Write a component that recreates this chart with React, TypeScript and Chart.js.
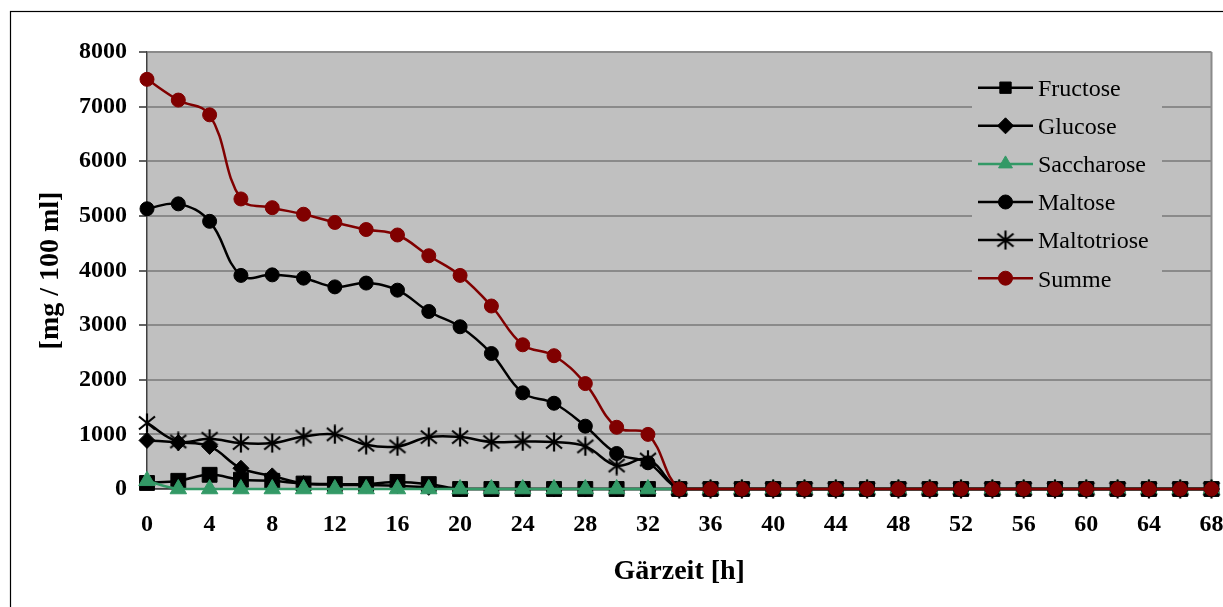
import React, { useEffect, useRef } from 'react';
import { Chart, registerables } from 'chart.js';
import { drawPoint } from 'chart.js/helpers';

Chart.register(...registerables);

const SERIF = "'Liberation Serif', 'Times New Roman', serif";

const hours = [0, 2, 4, 6, 8, 10, 12, 14, 16, 18, 20, 22, 24, 26, 28, 30, 32, 34, 36, 38, 40, 42, 44, 46, 48, 50, 52, 54, 56, 58, 60, 62, 64, 66, 68];

const fructose = [110, 150, 260, 170, 150, 100, 90, 90, 130, 90, 0, 0, 0, 0, 0, 0, 0, 0, 0, 0, 0, 0, 0, 0, 0, 0, 0, 0, 0, 0, 0, 0, 0, 0, 0];
const glucose = [890, 850, 780, 380, 240, 100, 80, 70, 60, 30, 0, 0, 0, 0, 0, 0, 0, 0, 0, 0, 0, 0, 0, 0, 0, 0, 0, 0, 0, 0, 0, 0, 0, 0, 0];
const saccharose = [150, 0, 0, 0, 0, 0, 0, 0, 0, 0, 0, 0, 0, 0, 0, 0, 0, 0, 0, 0, 0, 0, 0, 0, 0, 0, 0, 0, 0, 0, 0, 0, 0, 0, 0];
const maltose = [5130, 5220, 4900, 3910, 3920, 3860, 3700, 3770, 3640, 3250, 2970, 2480, 1760, 1570, 1150, 650, 480, 0, 0, 0, 0, 0, 0, 0, 0, 0, 0, 0, 0, 0, 0, 0, 0, 0, 0];
const maltotriose = [1210, 870, 920, 840, 840, 960, 1000, 810, 780, 950, 950, 860, 870, 860, 780, 430, 540, 0, 0, 0, 0, 0, 0, 0, 0, 0, 0, 0, 0, 0, 0, 0, 0, 0, 0];
const summe = [7500, 7120, 6850, 5310, 5150, 5030, 4880, 4750, 4650, 4270, 3910, 3350, 2640, 2440, 1930, 1130, 1000, 0, 0, 0, 0, 0, 0, 0, 0, 0, 0, 0, 0, 0, 0, 0, 0, 0, 0];

const legendOrder = ['Fructose', 'Glucose', 'Saccharose', 'Maltose', 'Maltotriose', 'Summe'];

function makeAsterisk(): HTMLCanvasElement {
  const c = document.createElement('canvas');
  c.width = 20;
  c.height = 20;
  const g = c.getContext('2d')!;
  g.strokeStyle = '#000';
  g.lineWidth = 2.2;
  g.beginPath();
  g.moveTo(10, 0.5);
  g.lineTo(10, 19.5);
  g.moveTo(2, 3.5);
  g.lineTo(18, 16.5);
  g.moveTo(18, 3.5);
  g.lineTo(2, 16.5);
  g.stroke();
  return c;
}

const pts = (vals: number[]) => hours.map((h, i) => ({ x: h, y: vals[i] }));

const bgPlugin = {
  id: 'excelBg',
  beforeDraw(chart: any) {
    const { ctx, chartArea: a } = chart;
    ctx.save();
    ctx.fillStyle = '#fff';
    ctx.fillRect(0, 0, chart.width, chart.height);
    ctx.fillStyle = '#C0C0C0';
    ctx.fillRect(a.left, a.top, a.right - a.left, a.bottom - a.top);
    ctx.restore();
  },
  beforeDatasetsDraw(chart: any) {
    const { ctx, chartArea: a } = chart;
    ctx.save();
    ctx.strokeStyle = '#8a8a8a';
    ctx.lineWidth = 2;
    ctx.beginPath();
    ctx.moveTo(a.right, a.top);
    ctx.lineTo(a.right, a.bottom);
    ctx.stroke();
    ctx.restore();
  },
};

const legendPlugin = {
  id: 'excelLegend',
  afterDraw(chart: any) {
    const ctx = chart.ctx;
    ctx.save();
    ctx.fillStyle = '#C0C0C0';
    ctx.fillRect(972, 68, 190, 228);
    legendOrder.forEach((name, i) => {
      const ds = chart.data.datasets.find((d: any) => d.label === name);
      const y = 87.7 + i * 38.1;
      ctx.strokeStyle = ds.borderColor;
      ctx.lineWidth = 2.5;
      ctx.beginPath();
      ctx.moveTo(978, y);
      ctx.lineTo(1033, y);
      ctx.stroke();
      ctx.fillStyle = ds.pointBackgroundColor;
      ctx.strokeStyle = ds.pointBorderColor;
      ctx.lineWidth = ds.pointBorderWidth;
      const r = Math.min(ds.pointRadius, 8);
      drawPoint(ctx, { pointStyle: ds.pointStyle, rotation: 0, radius: r, borderWidth: ds.pointBorderWidth } as any, 1005.5, y);
      ctx.fillStyle = '#000';
      ctx.font = `24px ${SERIF}`;
      ctx.textBaseline = 'alphabetic';
      ctx.textAlign = 'left';
      ctx.fillText(ds.label, 1038, y + 8.3);
    });
    // outer frame
    ctx.strokeStyle = '#000';
    ctx.lineWidth = 1.2;
    ctx.strokeRect(10.5, 11.5, 1400, 800);
    ctx.restore();
  },
};

export default function App() {
  const ref = useRef<HTMLCanvasElement>(null);
  useEffect(() => {
    if (!ref.current) return;
    const star = makeAsterisk();
    const base = { borderWidth: 2.5, tension: 0.4, clip: false as any, pointBorderWidth: 1 };
    const chart = new Chart(ref.current, {
      type: 'line',
      data: {
        datasets: [
          { ...base, label: 'Summe', data: pts(summe), borderColor: '#800000', backgroundColor: '#800000', pointBackgroundColor: '#800000', pointBorderColor: '#800000', pointStyle: 'circle', pointRadius: 7 },
          { ...base, label: 'Maltotriose', data: pts(maltotriose), borderColor: '#000', backgroundColor: '#000', pointBackgroundColor: '#000', pointBorderColor: '#000', pointStyle: star as any, pointRadius: 10 },
          { ...base, label: 'Maltose', data: pts(maltose), borderColor: '#000', backgroundColor: '#000', pointBackgroundColor: '#000', pointBorderColor: '#000', pointStyle: 'circle', pointRadius: 7 },
          { ...base, label: 'Saccharose', data: pts(saccharose), borderColor: '#339966', backgroundColor: '#339966', pointBackgroundColor: '#339966', pointBorderColor: '#339966', pointStyle: 'triangle', pointRadius: 9.5 },
          { ...base, label: 'Glucose', data: pts(glucose), borderColor: '#000', backgroundColor: '#000', pointBackgroundColor: '#000', pointBorderColor: '#000', pointStyle: 'rectRot', pointRadius: 8 },
          { ...base, label: 'Fructose', data: pts(fructose), borderColor: '#000', backgroundColor: '#000', pointBackgroundColor: '#000', pointBorderColor: '#000', pointStyle: 'rect', pointRadius: 10.5 },
        ],
      },
      options: {
        animation: false,
        responsive: true,
        maintainAspectRatio: false,
        layout: { padding: { left: 0, top: 52, right: 9, bottom: 0 } },
        plugins: { legend: { display: false }, tooltip: { enabled: false } },
        scales: {
          x: {
            type: 'linear',
            min: 0,
            max: 68,
            grid: { display: false },
            border: { display: true, color: '#404040', width: 1.5 },
            ticks: {
              stepSize: 4,
              padding: 13,
              color: '#000',
              font: { family: SERIF, size: 24, weight: 'bold' },
              callback: (v: any) => String(v),
            },
            title: {
              display: true,
              text: 'Gärzeit [h]',
              color: '#000',
              font: { family: SERIF, size: 28, weight: 'bold' },
              padding: { top: 0, bottom: 18 },
            },
            afterFit: (s: any) => {
              s.height = 118;
              s.paddingRight = 0;
              s.paddingLeft = 0;
            },
          },
          y: {
            min: 0,
            max: 8000,
            grid: { color: '#8a8a8a', lineWidth: 2, tickLength: 8, tickColor: '#303030', tickWidth: 1.5 },
            border: { display: true, color: '#404040', width: 1.5 },
            ticks: {
              stepSize: 1000,
              padding: 12,
              color: '#000',
              font: { family: SERIF, size: 24, weight: 'bold' },
              callback: (v: any) => String(v),
            },
            title: {
              display: true,
              text: '[mg / 100 ml]',
              color: '#000',
              font: { family: SERIF, size: 28, weight: 'bold' },
              padding: { top: 34, bottom: 0 },
            },
            afterFit: (s: any) => {
              s.width = 147;
            },
          },
        },
      },
      plugins: [bgPlugin, legendPlugin],
    });
    return () => chart.destroy();
  }, []);
  return (
    <div style={{ position: 'absolute', left: 0, top: 0, width: 1223, height: 607 }}>
      <canvas ref={ref} />
    </div>
  );
}
